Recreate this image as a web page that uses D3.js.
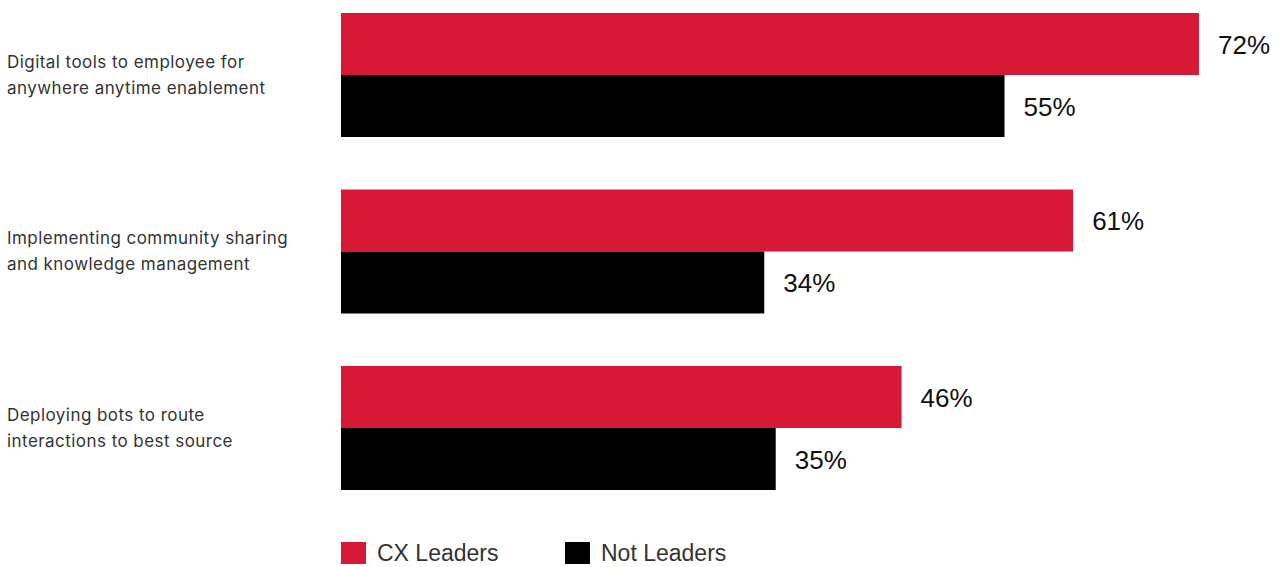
<!DOCTYPE html>
<html>
<head>
<meta charset="utf-8">
<script src="https://cdn.jsdelivr.net/npm/d3@7"></script>
<style>
  body { margin: 0; background: #fff; }
  .catText { font-family: Inter, "Noto Sans", sans-serif; font-size: 17px; letter-spacing: 0.45px; fill: #333; }
  .valueText { font-family: "Liberation Sans", Arial, sans-serif; font-size: 26px; fill: #111; }
  .legendText { font-family: "Liberation Sans", Arial, sans-serif; font-size: 23px; fill: #333; }
</style>
</head>
<body>
<div id="chart"></div>
<script>
var svgWidth = 1283;
var svgHeight = 567;

// Data
var categories = [
  ["Digital tools to employee for", "anywhere anytime enablement"],
  ["Implementing community sharing", "and knowledge management"],
  ["Deploying bots to route", "interactions to best source"]
];
var seriesNames = ["CX Leaders", "Not Leaders"];
var cxLeaders = [72, 61, 46];
var notLeaders = [55, 34, 35];
var colors = ["#d71837", "#000000"];

var svg = d3.select("#chart")
  .append("svg")
  .attr("width", svgWidth)
  .attr("height", svgHeight);

var rows = categories.map(function(c, i) {
  return { key: i, label: c, values: [cxLeaders[i], notLeaders[i]] };
});

// Scales
var yGroup = d3.scaleBand()
  .domain(rows.map(d => d.key))
  .range([13, 490])
  .paddingInner(0.2975)
  .paddingOuter(0)
  .align(0);

var ySeries = d3.scaleBand()
  .domain([0, 1])
  .range([0, yGroup.bandwidth()]);

// bars in the original start a bit left of the proportional zero
var xScale = d3.scaleLinear()
  .domain([-3, 72])
  .range([341, 1199]);

var groups = svg.selectAll(".group")
  .data(rows)
  .enter()
  .append("g")
  .attr("class", "group")
  .attr("transform", d => `translate(0, ${yGroup(d.key)})`);

groups.selectAll("rect")
  .data(d => d.values)
  .enter()
  .append("rect")
  .attr("x", xScale.range()[0])
  .attr("y", (d, i) => ySeries(i))
  .attr("width", d => xScale(d) - xScale.range()[0])
  .attr("height", ySeries.bandwidth())
  .attr("fill", (d, i) => colors[i]);

// value labels
groups.selectAll(".valueText")
  .data(d => d.values)
  .enter()
  .append("text")
  .attr("class", "valueText")
  .attr("x", d => xScale(d) + 19)
  .attr("y", (d, i) => ySeries(i) + ySeries.bandwidth() / 2 + 10)
  .text(d => d + "%");

// category labels
groups.append("text")
  .attr("class", "catText")
  .attr("x", 7)
  .attr("y", yGroup.bandwidth() / 2 - 13 + 6)
  .selectAll("tspan")
  .data(d => d.label)
  .enter()
  .append("tspan")
  .attr("x", 7)
  .attr("dy", (d, i) => i === 0 ? 0 : 26)
  .text(d => d);

// Legend
var legendX = [341, 565];
var legend = svg.selectAll(".legend")
  .data(seriesNames)
  .enter()
  .append("g")
  .attr("class", "legend")
  .attr("transform", (d, i) => `translate(${legendX[i]}, 542)`);

legend.append("rect")
  .attr("width", 25)
  .attr("height", 22)
  .attr("fill", (d, i) => colors[i]);

legend.append("text")
  .attr("class", "legendText")
  .attr("x", 36)
  .attr("y", 19)
  .text(d => d);
</script>
</body>
</html>
